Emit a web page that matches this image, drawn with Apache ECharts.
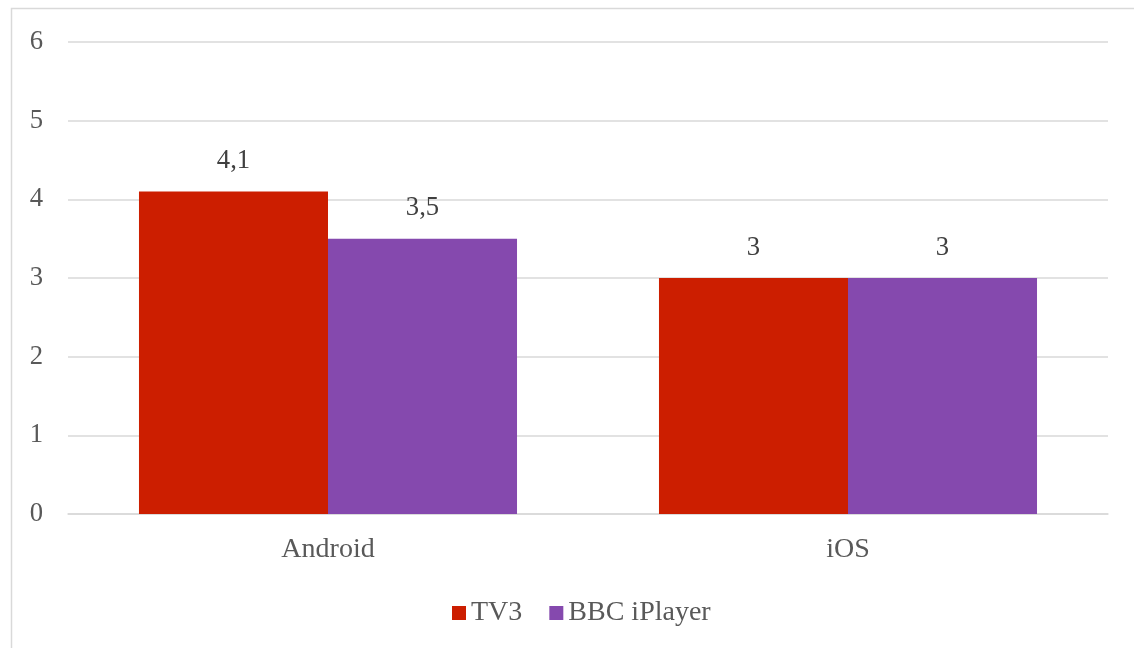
<!DOCTYPE html>
<html><head><meta charset="utf-8">
<script src="https://cdn.jsdelivr.net/npm/echarts@6/dist/echarts.min.js"></script>
<style>html,body{margin:0;padding:0;background:#fff;}#c{width:1134px;height:648px;}</style>
</head><body><div id="c"></div>
<script>
const categories = ['Android', 'iOS'];
const tv3 = [4.1, 3];
const bbc = [3.5, 3];
const seriesNames = ['TV3', 'BBC iPlayer'];
const FONT = '"Liberation Serif", "Times New Roman", serif';
const FS = 26.7;
const FS2 = 28;
const chart = echarts.init(document.getElementById('c'));
const lbl = {show: true, position: 'top', distance: 17, fontFamily: FONT, fontSize: FS, color: '#404040',
  formatter: p => String(p.value).replace('.', ',')};
chart.setOption({
  animation: false,
  textStyle: {fontFamily: FONT},
  graphic: [{type: 'rect', shape: {x: 11.5, y: 8.5, width: 1140, height: 660}, style: {fill: 'none', stroke: '#d9d9d9', lineWidth: 1.5}, silent: true, z: -1}],
  grid: {left: 68, right: 26, top: 42, bottom: 134},
  legend: {top: 594, left: 447, itemWidth: 14, itemHeight: 14, itemGap: 27, icon: 'rect',
    textStyle: {fontFamily: FONT, fontSize: FS2, color: '#595959'}, data: seriesNames},
  xAxis: {type: 'category', data: categories, axisTick: {show: false},
    axisLine: {lineStyle: {color: '#d9d9d9', width: 1.5}},
    axisLabel: {fontFamily: FONT, fontSize: FS2, color: '#595959', margin: 22}},
  yAxis: {type: 'value', min: 0, max: 6, interval: 1,
    axisLine: {show: false}, axisTick: {show: false},
    splitLine: {lineStyle: {color: '#d9d9d9', width: 1.5}},
    axisLabel: {fontFamily: FONT, fontSize: FS, color: '#595959', margin: 25, padding: [5, 0, 0, 0]}},
  series: [
    {name: seriesNames[0], type: 'bar', data: tv3, itemStyle: {color: '#CC1E00'}, barGap: '0%', barCategoryGap: '27.3%', label: lbl},
    {name: seriesNames[1], type: 'bar', data: bbc, itemStyle: {color: '#8549AE'}, label: lbl}
  ]
});
</script></body></html>
